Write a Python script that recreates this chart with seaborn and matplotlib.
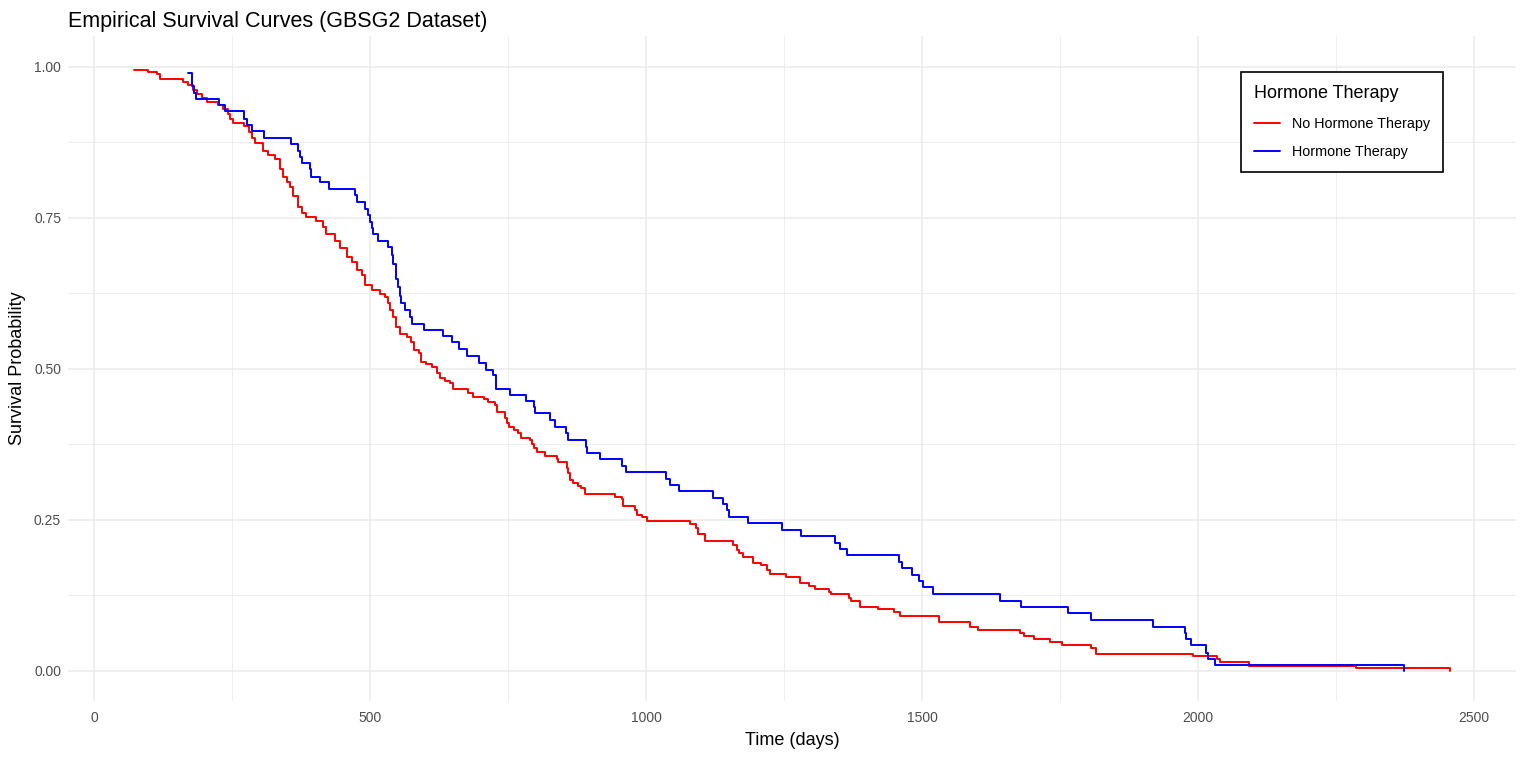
import pandas as pd
import seaborn as sns
import matplotlib.pyplot as plt
from matplotlib.ticker import MultipleLocator, FormatStrFormatter

# Kaplan-Meier style step values
no_ht_time = [72, 98, 114, 120, 161, 171, 180, 186, 195, 204, 225, 234, 243, 246, 251,
              272, 281, 286, 292, 307, 316, 328, 337, 343, 349, 355, 360, 370, 376, 385,
              403, 415, 421, 437, 446, 458, 467, 476, 485, 491, 503, 518, 527, 533, 536,
              542, 548, 554, 567, 574, 580, 588, 593, 601, 612, 622, 627, 636, 645, 651,
              678, 687, 707, 714, 726, 731, 745, 748, 752, 761, 769, 774, 790, 794, 798,
              802, 817, 838, 841, 856, 859, 862, 867, 876, 882, 889, 944, 956, 959, 980,
              983, 992, 1001, 1080, 1091, 1095, 1107, 1158, 1164, 1169, 1175, 1193, 1208,
              1219, 1225, 1254, 1279, 1296, 1306, 1332, 1336, 1367, 1371, 1387, 1421, 1449,
              1460, 1530, 1587, 1601, 1678, 1685, 1702, 1731, 1753, 1806, 1815, 1990, 2034,
              2040, 2093, 2286, 2457, 2457]
no_ht_surv = [0.995, 0.991, 0.987, 0.980, 0.975, 0.970, 0.962, 0.955, 0.948, 0.941, 0.936,
              0.930, 0.922, 0.914, 0.907, 0.902, 0.891, 0.881, 0.873, 0.861, 0.853, 0.847,
              0.831, 0.817, 0.809, 0.801, 0.785, 0.767, 0.758, 0.751, 0.745, 0.734, 0.723,
              0.712, 0.699, 0.685, 0.677, 0.663, 0.655, 0.638, 0.630, 0.624, 0.619, 0.608,
              0.597, 0.586, 0.569, 0.557, 0.553, 0.544, 0.531, 0.526, 0.511, 0.507, 0.503,
              0.492, 0.484, 0.480, 0.476, 0.467, 0.460, 0.453, 0.449, 0.445, 0.440, 0.429,
              0.419, 0.410, 0.404, 0.399, 0.393, 0.386, 0.382, 0.375, 0.368, 0.362, 0.355,
              0.350, 0.346, 0.335, 0.327, 0.316, 0.311, 0.306, 0.302, 0.292, 0.288, 0.284,
              0.273, 0.266, 0.258, 0.254, 0.248, 0.243, 0.236, 0.227, 0.214, 0.208, 0.200,
              0.195, 0.188, 0.179, 0.175, 0.167, 0.160, 0.155, 0.145, 0.141, 0.136, 0.130,
              0.127, 0.121, 0.116, 0.106, 0.102, 0.097, 0.091, 0.081, 0.073, 0.068, 0.062,
              0.058, 0.053, 0.047, 0.043, 0.037, 0.028, 0.024, 0.019, 0.014, 0.008, 0.004,
              0.004, 0.0]

ht_time = [170, 177, 181, 185, 227, 237, 272, 277, 286, 308, 357, 369, 373, 377, 391, 393,
           409, 426, 473, 476, 491, 497, 500, 503, 505, 515, 532, 539, 542, 547, 551, 554,
           557, 563, 572, 577, 598, 632, 648, 662, 675, 698, 711, 722, 729, 754, 783, 797,
           799, 826, 835, 855, 858, 891, 894, 917, 956, 964, 1036, 1043, 1060, 1121, 1140,
           1146, 1150, 1184, 1246, 1280, 1342, 1351, 1364, 1459, 1463, 1481, 1494, 1501,
           1520, 1641, 1680, 1764, 1807, 1918, 1976, 1978, 1988, 2015, 2018, 2030, 2373, 2373]
ht_surv = [0.989, 0.967, 0.956, 0.946, 0.937, 0.926, 0.914, 0.904, 0.893, 0.882, 0.872,
           0.861, 0.851, 0.840, 0.831, 0.818, 0.809, 0.798, 0.787, 0.776, 0.765, 0.754,
           0.743, 0.732, 0.723, 0.711, 0.701, 0.688, 0.674, 0.649, 0.635, 0.621, 0.608,
           0.597, 0.586, 0.574, 0.564, 0.554, 0.544, 0.532, 0.521, 0.510, 0.498, 0.489,
           0.467, 0.457, 0.447, 0.436, 0.426, 0.415, 0.404, 0.393, 0.382, 0.371, 0.361,
           0.350, 0.339, 0.329, 0.318, 0.308, 0.298, 0.286, 0.276, 0.266, 0.255, 0.244,
           0.233, 0.223, 0.212, 0.201, 0.191, 0.180, 0.170, 0.159, 0.148, 0.138, 0.127,
           0.116, 0.106, 0.095, 0.084, 0.073, 0.062, 0.052, 0.042, 0.030, 0.020, 0.010,
           0.010, 0.0]

groups = ["No Hormone Therapy", "Hormone Therapy"]
colors = ["red", "blue"]

sns.set_theme(style="white")
plt.rcParams["font.family"] = ["Liberation Sans", "DejaVu Sans"]
plt.rcParams["text.color"] = "black"

df = pd.concat([
    pd.DataFrame({"time": no_ht_time, "surv": no_ht_surv, "group": groups[0]}),
    pd.DataFrame({"time": ht_time, "surv": ht_surv, "group": groups[1]}),
])

fig = plt.figure(figsize=(15.25, 7.57), dpi=100)
ax = fig.add_axes([0.0446, 0.074, 0.9495, 0.878])

sns.lineplot(data=df, x="time", y="surv", hue="group", hue_order=groups,
             palette=dict(zip(groups, colors)), estimator=None, sort=False,
             drawstyle="steps-post", linewidth=1.4, ax=ax)

ax.set_xlim(-47, 2576)
ax.set_ylim(-0.05, 1.05)
ax.xaxis.set_major_locator(MultipleLocator(500))
ax.xaxis.set_minor_locator(MultipleLocator(250))
ax.yaxis.set_major_locator(MultipleLocator(0.25))
ax.yaxis.set_minor_locator(MultipleLocator(0.125))
ax.yaxis.set_major_formatter(FormatStrFormatter("%.2f"))
ax.grid(which="major", color="#EBEBEB", linewidth=1.1)
ax.grid(which="minor", color="#EBEBEB", linewidth=0.6)
ax.set_axisbelow(True)
for s in ax.spines.values():
    s.set_visible(False)
ax.tick_params(which="both", length=0, labelsize=10, colors="#4D4D4D")
ax.tick_params(axis="x", pad=7)
ax.tick_params(axis="y", pad=5)

ax.set_xlabel("Time (days)", fontsize=13, color="black", labelpad=5)
ax.set_ylabel("Survival Probability", fontsize=13, color="black", labelpad=6)
ax.set_title("Empirical Survival Curves (GBSG2 Dataset)", fontsize=15.5, loc="left",
             x=0.0, pad=7, color="black")

leg = ax.legend(title="Hormone Therapy", loc="upper right",
                bbox_to_anchor=(0.9496, 0.946), borderaxespad=0,
                fontsize=10.4, title_fontsize=13, frameon=True, fancybox=False,
                framealpha=1, handlelength=1.8, handletextpad=0.8, labelspacing=1.0,
                borderpad=0.9, alignment="left")
leg.get_frame().set_edgecolor("black")
leg.get_frame().set_linewidth(1.2)
for line in leg.get_lines():
    line.set_linewidth(1.4)

fig.savefig("out.png", dpi=100)
